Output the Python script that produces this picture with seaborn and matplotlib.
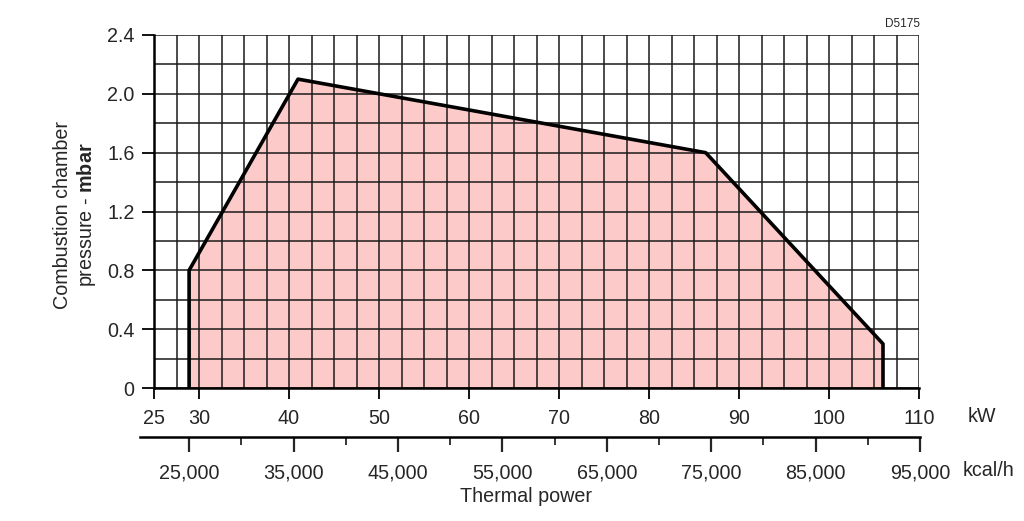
import numpy as np
import seaborn as sns
import matplotlib.pyplot as plt
from matplotlib.ticker import MultipleLocator

# working field of the burner (kW, mbar)
kw = [28.9, 28.9, 41.0, 86.3, 106.0, 106.0]
mbar = [0.0, 0.8, 2.1, 1.6, 0.3, 0.0]

kw_ticks = [25, 30, 40, 50, 60, 70, 80, 90, 100, 110]
mbar_ticks = [0, 0.4, 0.8, 1.2, 1.6, 2.0, 2.4]
mbar_labels = ["0", "0.4", "0.8", "1.2", "1.6", "2.0", "2.4"]
kcal_major = [25000, 35000, 45000, 55000, 65000, 75000, 85000, 95000]
kcal_minor = [30000, 40000, 50000, 60000, 70000, 80000, 90000]

sns.set_style("white")
plt.rcParams["font.family"] = ["Liberation Sans", "DejaVu Sans"]
plt.rcParams["mathtext.fontset"] = "custom"
plt.rcParams["mathtext.rm"] = "Liberation Sans"
plt.rcParams["mathtext.bf"] = "Liberation Sans:bold"
fs = 14.2

fig = plt.figure(figsize=(10.24, 5.21), dpi=100)
ax = fig.add_axes([154 / 1024, 1 - 388 / 521, 765 / 1024, 353 / 521])

ax.fill_between(kw, mbar, 0, color="#fdcaca", zorder=1)
sns.lineplot(x=kw, y=mbar, sort=False, estimator=None, color="black",
             linewidth=2.6, ax=ax, zorder=5)

ax.set_xlim(25, 110)
ax.set_ylim(0, 2.4)
ax.set_xticks(kw_ticks)
ax.set_yticks(mbar_ticks)
ax.set_yticklabels(mbar_labels)
ax.xaxis.set_minor_locator(MultipleLocator(2.5))
ax.yaxis.set_minor_locator(MultipleLocator(0.2))
ax.grid(which="both", color="#1a1a1a", linewidth=1.1, zorder=2)
ax.set_axisbelow(False)
ax.tick_params(axis="x", which="major", direction="out", length=8, width=1.3,
               labelsize=fs, pad=7, color="black", bottom=True)
ax.tick_params(axis="y", which="major", direction="out", length=9, width=1.3,
               labelsize=fs, pad=5, color="black", left=True)
ax.tick_params(which="minor", length=0)
for s in ["top", "right"]:
    ax.spines[s].set_visible(False)
for s in ["left", "bottom"]:
    ax.spines[s].set_color("black")
    ax.spines[s].set_linewidth(1.8)
    ax.spines[s].set_zorder(6)

# second scale in kcal/h
ax2 = fig.add_axes([140 / 1024, 1 - 437 / 521, 780 / 1024, 0.001])
ax2.set_xlim(20280, 95000)
ax2.set_yticks([])
for s in ["top", "right", "left"]:
    ax2.spines[s].set_visible(False)
ax2.spines["bottom"].set_linewidth(1.8)
ax2.spines["bottom"].set_color("black")
ax2.set_xticks(kcal_major)
ax2.set_xticklabels([f"{v:,}" for v in kcal_major])
ax2.set_xticks(kcal_minor, minor=True)
ax2.tick_params(which="major", direction="out", length=11, width=1.6,
                labelsize=fs, pad=8, bottom=True)
ax2.tick_params(which="minor", direction="out", length=6, width=1.3, bottom=True)
ax2.patch.set_visible(False)

fig.text(982 / 1024, 1 - 417 / 521, "kW", fontsize=fs, ha="center", va="center")
fig.text(988 / 1024, 1 - 471 / 521, "kcal/h", fontsize=fs, ha="center", va="center")
fig.text(526 / 1024, 1 - 497 / 521, "Thermal power", fontsize=fs, ha="center", va="center")
fig.text(903 / 1024, 1 - 24 / 521, "D5175", fontsize=8.5, ha="center", va="center")
fig.text(62 / 1024, 1 - 215 / 521, "Combustion chamber", fontsize=fs,
         rotation=90, ha="center", va="center")
fig.text(86 / 1024, 1 - 215 / 521, r"pressure - $\mathbf{mbar}$", fontsize=fs,
         rotation=90, ha="center", va="center")

fig.savefig("out.png", dpi=100)
